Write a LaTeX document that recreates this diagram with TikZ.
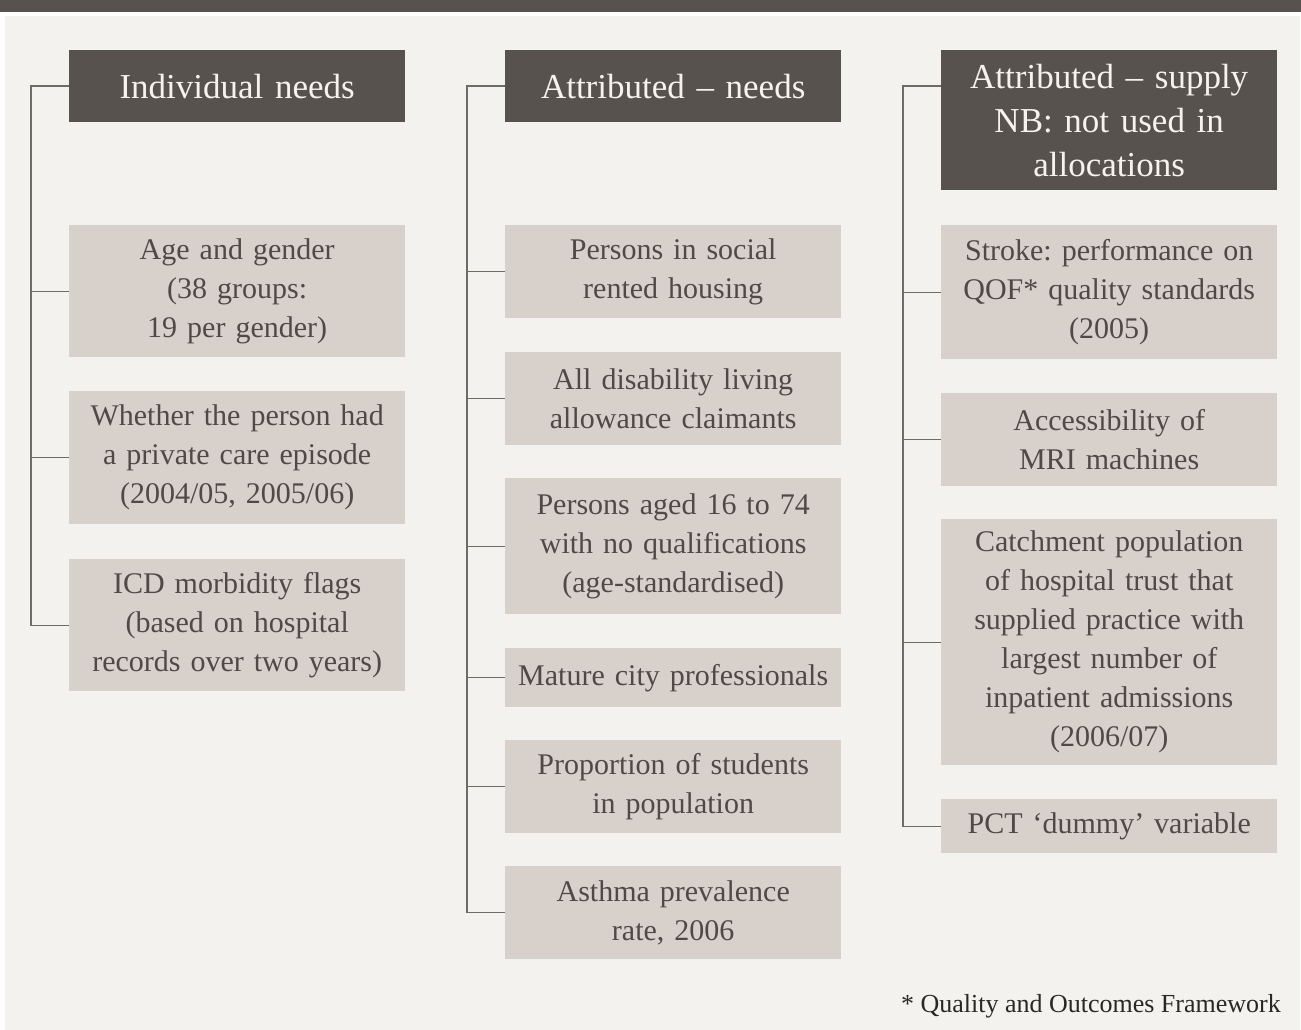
\documentclass[tikz,border=0pt]{standalone}
\usepackage{fontspec}
\setmainfont{Liberation Serif}
\frenchspacing
\definecolor{bandc}{HTML}{58524E}
\definecolor{panelc}{HTML}{F3F2EE}
\definecolor{boxc}{HTML}{D8D1CB}
\definecolor{linec}{HTML}{6E6A66}
\definecolor{itemtext}{HTML}{4F4A46}
\definecolor{headtext}{HTML}{F6F3EE}
\definecolor{foottext}{HTML}{2A2826}
\begin{document}
\begin{tikzpicture}[x=1pt,y=-1pt,
  headbox/.style={fill=bandc, text=headtext, anchor=north west, inner sep=0pt,
    text width=336pt, align=center, font=\fontsize{35}{44}\selectfont},
  itembox/.style={fill=boxc, text=itemtext, anchor=north west, inner sep=0pt,
    text width=336pt, align=center, font=\fontsize{30}{39}\selectfont},
  conn/.style={draw=linec, line width=1.3pt}]
\useasboundingbox (0,0) rectangle (1301,1030);
\fill[white] (0,0) rectangle (1301,1030);
\fill[bandc] (0,0) rectangle (1301,12.5);
\fill[panelc] (5,16) rectangle (1300,1030);

% Column 1
\node[headbox, minimum height=72pt] (h1) at (69,50) {Individual needs};
\node[itembox, minimum height=132pt] (a1) at (69,225) {Age and gender\\(38 groups:\\19 per gender)};
\node[itembox, minimum height=133pt] (a2) at (69,391) {Whether the person had\\a private care episode\\(2004/05, 2005/06)};
\node[itembox, minimum height=132pt] (a3) at (69,559) {ICD morbidity flags\\(based on hospital\\records over two years)};

% Column 2
\node[headbox, minimum height=72pt] (h2) at (505,50) {Attributed -- needs};
\node[itembox, minimum height=93pt] (b1) at (505,225) {Persons in social\\rented housing};
\node[itembox, minimum height=93pt] (b2) at (505,352) {All disability living\\allowance claimants};
\node[itembox, minimum height=136pt] (b3) at (505,478) {Persons aged 16 to 74\\with no qualifications\\(age-standardised)};
\node[itembox, minimum height=59pt] (b4) at (505,648) {Mature city professionals};
\node[itembox, minimum height=93pt] (b5) at (505,740) {Proportion of students\\in population};
\node[itembox, minimum height=93pt] (b6) at (505,866) {Asthma prevalence\\rate, 2006};

% Column 3
\node[headbox, minimum height=140pt] (h3) at (941,50) {Attributed -- supply\\NB: not used in\\allocations};
\node[itembox, minimum height=134pt] (c1) at (941,225) {Stroke: performance on\\QOF* quality standards\\(2005)};
\node[itembox, minimum height=93pt] (c2) at (941,393) {Accessibility of\\MRI machines};
\node[itembox, minimum height=246pt] (c3) at (941,519) {Catchment population\\of hospital trust that\\supplied practice with\\largest number of\\inpatient admissions\\(2006/07)};
\node[itembox, minimum height=54pt] (c4) at (941,799) {PCT `dummy' variable};

% Connectors
\coordinate (t1) at (31,86);
\coordinate (t2) at (467,86);
\coordinate (t3) at (903,86);
\draw[conn] (h1.west |- t1) -- (t1) |- (a3.west);
\draw[conn] (t1 |- a1.west) -- (a1.west);
\draw[conn] (t1 |- a2.west) -- (a2.west);
\draw[conn] (h2.west |- t2) -- (t2) |- (b6.west);
\foreach \n in {b1,b2,b3,b4,b5} \draw[conn] (t2 |- \n.west) -- (\n.west);
\draw[conn] (h3.west |- t3) -- (t3) |- (c4.west);
\foreach \n in {c1,c2,c3} \draw[conn] (t3 |- \n.west) -- (\n.west);

% Footnote
\node[anchor=east, inner sep=0pt, text=foottext, font=\fontsize{26}{30}\selectfont] (fn) at (1281,1006) {* Quality and Outcomes Framework};
\end{tikzpicture}
\end{document}
